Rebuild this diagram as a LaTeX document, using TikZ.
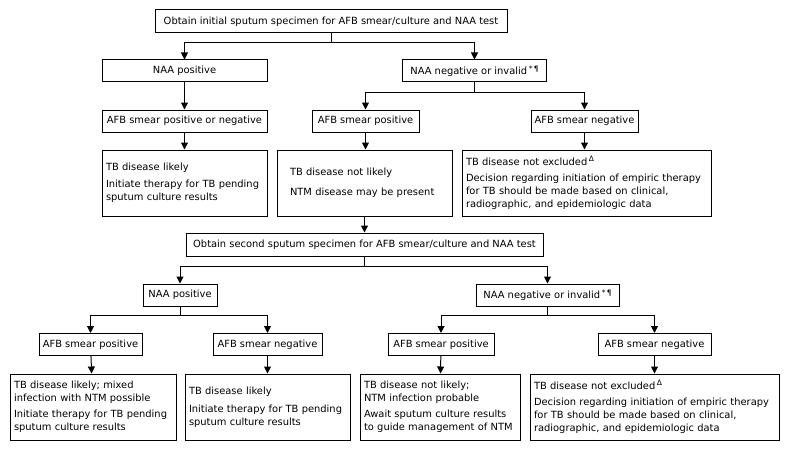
\documentclass[tikz,border=0pt]{standalone}
\usepackage{fontspec}
\setmainfont{DejaVu Sans}
\usetikzlibrary{positioning}
\usetikzlibrary{arrows.meta}
\newcommand{\fnmark}[1]{\raisebox{3.5pt}{\fontsize{7.5}{7.5}\selectfont #1}}
\tikzset{
    mybox/.style = {draw=black, line width=1pt, align=center, inner sep=2pt, minimum height=22pt},
    mytext/.style = {draw=black, line width=1pt, align=left, inner xsep=4pt, minimum height=66pt},
    edgen/.style = {-{Triangle[length=7pt,width=7pt]}, line width=1pt, black}
}
\begin{document}
\begin{tikzpicture}[x=1pt, y=-1pt, font=\fontsize{9.9}{13}\selectfont]
  \useasboundingbox (0,0) rectangle (790,452);
  % first specimen
  \node[mybox, minimum width=352pt, minimum height=23pt] (obt1) at (331,21.5) {Obtain initial sputum specimen for AFB smear/culture and NAA test};
  \node[mybox, minimum width=165pt] (naap1) at (184.5,71) {NAA positive};
  \node[mybox, minimum width=144pt] (naan1) at (474.5,71) {NAA negative or invalid\,\fnmark{*\,¶}};
  \node[mybox, minimum width=165pt] (afbpn1) at (184.5,121) {AFB smear positive or negative};
  \node[mybox, minimum width=107pt] (afbp1) at (365.5,121) {AFB smear positive};
  \node[mybox, minimum width=107pt] (afbn1) at (584.5,121) {AFB smear negative};
  \node[mytext, minimum width=165pt, text width=157pt] (res1) at (184.5,183) {TB disease likely\\[4pt]Initiate therapy for TB pending\\sputum culture results};
  \node[mytext, minimum width=175pt, text width=149pt, inner xsep=13pt] (res2) at (364.5,183) {TB disease not likely\\[7pt]NTM disease may be present};
  \node[mytext, minimum width=249pt, text width=241pt] (res3) at (586.5,183) {TB disease not excluded\,\fnmark{Δ}\\[3pt]Decision regarding initiation of empiric therapy\\for TB should be made based on clinical,\\radiographic, and epidemiologic data};
  % second specimen
  \node[mybox, minimum width=357pt, minimum height=23pt] (obt2) at (364.5,244.5) {Obtain second sputum specimen for AFB smear/culture and NAA test};
  \node[mybox, minimum width=74pt] (naap2) at (180,295) {NAA positive};
  \node[mybox, minimum width=143pt] (naan2) at (547.5,295) {NAA negative or invalid\,\fnmark{*\,¶}};
  \node[mybox, minimum width=103pt] (afbp2) at (90.5,344.5) {AFB smear positive};
  \node[mybox, minimum width=109pt] (afbn2) at (267.5,344.5) {AFB smear negative};
  \node[mybox, minimum width=106pt] (afbp3) at (441,344.5) {AFB smear positive};
  \node[mybox, minimum width=113pt] (afbn3) at (654.5,344.5) {AFB smear negative};
  \node[mytext, minimum width=166pt, text width=158pt] (res4) at (93,407) {TB disease likely; mixed\\infection with NTM possible\\[3pt]Initiate therapy for TB pending\\sputum culture results};
  \node[mytext, minimum width=165pt, text width=157pt] (res5) at (267.5,407) {TB disease likely\\[5pt]Initiate therapy for TB pending\\sputum culture results};
  \node[mytext, minimum width=160pt, text width=152pt] (res6) at (440,407) {TB disease not likely;\\NTM infection probable\\[3pt]Await sputum culture results\\to guide management of NTM};
  \node[mytext, minimum width=249pt, text width=241pt] (res7) at (654.5,407) {TB disease not excluded\,\fnmark{Δ}\\[3pt]Decision regarding initiation of empiric therapy\\for TB should be made based on clinical,\\radiographic, and epidemiologic data};
  % connectors
  \draw[edgen] (obt1.south) -- ++(0,9) -| (naap1.north);
  \draw[edgen] (obt1.south) -- ++(0,9) -| (naan1.north);
  \draw[edgen] (naap1) -- (afbpn1);
  \draw[edgen] (naan1.south) -- ++(0,10) -| (afbp1.north);
  \draw[edgen] (naan1.south) -- ++(0,10) -| (afbn1.north);
  \draw[edgen] (afbpn1) -- (res1);
  \draw[edgen] (afbp1.south) -- (afbp1.south |- res2.north);
  \draw[edgen] (afbn1.south) -- (afbn1.south |- res3.north);
  \draw[edgen] (res2) -- (obt2);
  \draw[edgen] (obt2.south) -- ++(0,10) -| (naap2.north);
  \draw[edgen] (obt2.south) -- ++(0,10) -| (naan2.north);
  \draw[edgen] (naap2.south) -- ++(0,9) -| (afbp2.north);
  \draw[edgen] (naap2.south) -- ++(0,9) -| (afbn2.north);
  \draw[edgen] (naan2.south) -- ++(0,9) -| (afbp3.north);
  \draw[edgen] (naan2.south) -- ++(0,9) -| (afbn3.north);
  \draw[edgen] (afbp2) -- (res4);
  \draw[edgen] (afbn2) -- (res5);
  \draw[edgen] (afbp3) -- (res6);
  \draw[edgen] (afbn3) -- (res7);
\end{tikzpicture}
\end{document}
